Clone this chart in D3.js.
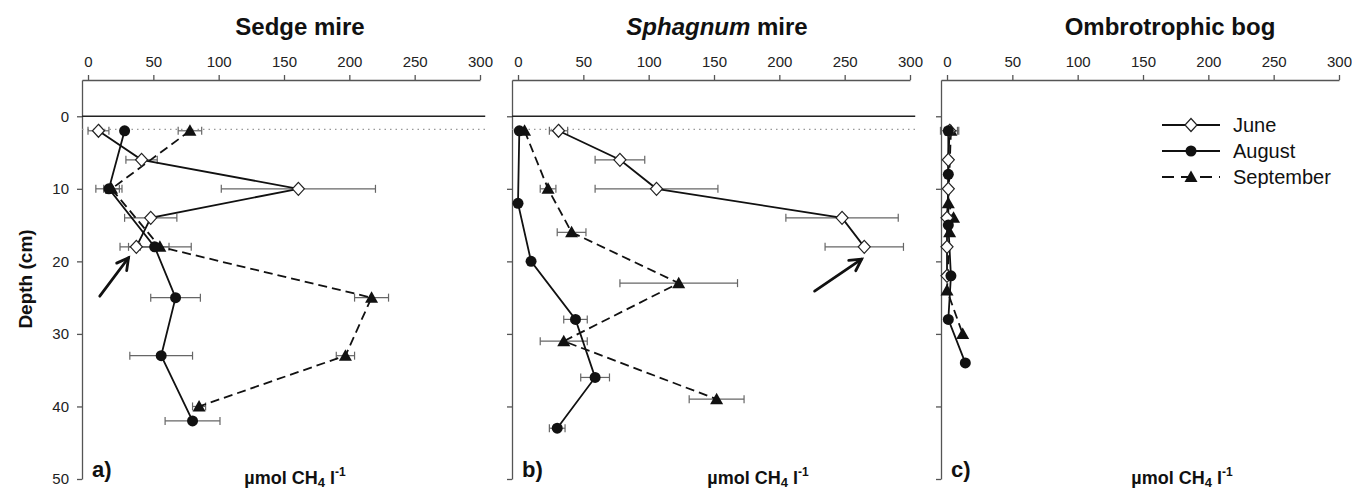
<!DOCTYPE html>
<html>
<head>
<meta charset="utf-8">
<script src="https://cdn.jsdelivr.net/npm/d3@7"></script>
<style>
body { margin: 0; background: #fff; }
text { font-family: Arial, "Liberation Sans", sans-serif; }
</style>
</head>
<body>
<svg id="chart"></svg>
<script>
// rows are [depth (cm), CH4 (umol/l), error]
var sedgeJune = [[2, 8, 8], [6, 41, 12], [10, 161, 59], [14, 48, 20], [18, 37, 12.5]];
var sedgeAugust = [[2, 28, 0], [10, 16, 10], [18, 51, 11], [25, 67, 19], [33, 56, 24], [42, 80, 21]];
var sedgeSeptember = [[2, 78, 9], [10, 18, 6], [18, 55, 24], [25, 217, 13], [33, 197, 7], [40, 85, 5]];

var sphagnumJune = [[2, 31, 7], [6, 78, 19], [10, 106, 47], [14, 248, 43], [18, 265, 30]];
var sphagnumAugust = [[2, 1, 0], [12, 0, 0], [20, 10, 0], [28, 44, 9], [36, 59, 11], [43, 30, 6]];
var sphagnumSeptember = [[2, 5, 0], [10, 23, 6], [16, 41, 11], [23, 123, 45], [31, 35, 18], [39, 152, 21]];

var bogJune = [[2, 2, 7], [6, 1, 0], [10, 1, 0], [14, 0, 0], [18, 0, 0], [22, 0, 0]];
var bogAugust = [[2, 1, 0], [8, 1, 0], [15, 1, 0], [22, 3, 0], [28, 1, 0], [34, 14, 0]];
var bogSeptember = [[2, 3, 5], [12, 1, 0], [14, 5, 0], [16, 2, 0], [24, 0, 0], [30, 12, 0]];

var months = ["June", "August", "September"];
var ticksX = [0, 50, 100, 150, 200, 250, 300];
var ticksY = [0, 10, 20, 30, 40, 50];

// arrows [depth, value] from -> to
var sedgeArrow = [[24.8, 9], [19.5, 31]];
var sphagnumArrow = [[24.1, 227], [19.7, 263]];

var w = 1352,
    h = 491;

var svg = d3.select("#chart")
	.attr("width", w)
	.attr("height", h);

var panels = [
	{ title: "Sedge mire", letter: "a)", left: 82, titleX: 300, labelX: 295, labels: true, ref: true,
	  series: [sedgeJune, sedgeAugust, sedgeSeptember], arrow: sedgeArrow },
	{ title: "mire", italic: "Sphagnum", letter: "b)", left: 512, titleX: 717, labelX: 758, labels: false, ref: true,
	  series: [sphagnumJune, sphagnumAugust, sphagnumSeptember], arrow: sphagnumArrow },
	{ title: "Ombrotrophic bog", letter: "c)", left: 941, titleX: 1170, labelX: 1182, labels: false, ref: false,
	  series: [bogJune, bogAugust, bogSeptember], arrow: null }
];

function marker(sel, m) {
	if (m == 0) {
		sel.append("path").attr("d", "M0,-6.5L6,0L0,6.5L-6,0Z")
			.attr("fill", "#fff").attr("stroke", "#222").attr("stroke-width", 1.2);
	} else if (m == 1) {
		sel.append("circle").attr("r", 5.5).attr("fill", "#111");
	} else {
		sel.append("path").attr("d", "M0,-6.5L6.5,5L-6.5,5Z").attr("fill", "#111");
	}
}

function styleAxis(a) {
	a.select(".domain").attr("stroke", "#555").attr("stroke-width", 1.3);
	a.selectAll(".tick line").attr("stroke", "#555").attr("stroke-width", 1.3);
	a.selectAll(".tick text").attr("font-size", 15).attr("fill", "#222")
		.style("font-family", "Arial, 'Liberation Sans', sans-serif");
}

panels.forEach(function(p) {
	var x = d3.scaleLinear().domain([-4.6, 300]).range([p.left, p.left + 398]);
	var y = d3.scaleLinear().domain([-5, 50]).range([80, 479]);
	var g = svg.append("g");

	g.append("g")
		.attr("transform", "translate(0,80)")
		.call(d3.axisTop(x).tickValues(ticksX).tickSize(5).tickSizeOuter(0).tickPadding(8))
		.call(styleAxis);

	var ya = d3.axisLeft(y).tickValues(ticksY).tickSize(5).tickSizeOuter(0).tickPadding(8);
	if (!p.labels) ya.tickFormat("");
	g.append("g")
		.attr("transform", "translate(" + p.left + ",0)")
		.call(ya)
		.call(styleAxis);

	if (p.ref) {
		g.append("line")
			.attr("x1", x(-4.6)).attr("x2", x(304))
			.attr("y1", y(0)).attr("y2", y(0))
			.attr("stroke", "#222").attr("stroke-width", 1.5);
		g.append("line")
			.attr("x1", x(-4.6)).attr("x2", x(304))
			.attr("y1", y(1.8)).attr("y2", y(1.8))
			.attr("stroke", "#999").attr("stroke-width", 1.3)
			.attr("stroke-dasharray", "1.5,4");
	}

	var line = d3.line()
		.x(function(d) { return x(d[1]); })
		.y(function(d) { return y(d[0]); });

	// error bars
	p.series.forEach(function(s) {
		s.filter(function(d) { return d[2] > 0; }).forEach(function(d) {
			var eb = g.append("g").attr("stroke", "#666").attr("stroke-width", 1.2);
			eb.append("line").attr("x1", x(d[1] - d[2])).attr("x2", x(d[1] + d[2]))
				.attr("y1", y(d[0])).attr("y2", y(d[0]));
			eb.append("line").attr("x1", x(d[1] - d[2])).attr("x2", x(d[1] - d[2]))
				.attr("y1", y(d[0]) - 4).attr("y2", y(d[0]) + 4);
			eb.append("line").attr("x1", x(d[1] + d[2])).attr("x2", x(d[1] + d[2]))
				.attr("y1", y(d[0]) - 4).attr("y2", y(d[0]) + 4);
		});
	});

	// lines
	p.series.forEach(function(s, i) {
		g.append("path")
			.attr("d", line(s))
			.attr("fill", "none")
			.attr("stroke", "#111")
			.attr("stroke-width", 1.8)
			.attr("stroke-dasharray", i == 2 ? "9,5" : null);
	});

	// markers: september, june, august
	[2, 0, 1].forEach(function(i) {
		p.series[i].forEach(function(d) {
			var mg = g.append("g").attr("transform", "translate(" + x(d[1]) + "," + y(d[0]) + ")");
			marker(mg, i);
		});
	});

	if (p.arrow) {
		var a0 = [x(p.arrow[0][1]), y(p.arrow[0][0])];
		var a1 = [x(p.arrow[1][1]), y(p.arrow[1][0])];
		var ang = Math.atan2(a1[1] - a0[1], a1[0] - a0[0]);
		var ag = g.append("g").attr("stroke", "#111").attr("stroke-width", 2.8)
			.attr("fill", "none").attr("stroke-linecap", "round");
		ag.append("line").attr("x1", a0[0]).attr("y1", a0[1]).attr("x2", a1[0]).attr("y2", a1[1]);
		ag.append("path").attr("d", "M" + (a1[0] - 13 * Math.cos(ang - 0.5)) + "," + (a1[1] - 13 * Math.sin(ang - 0.5)) +
			"L" + a1[0] + "," + a1[1] +
			"L" + (a1[0] - 13 * Math.cos(ang + 0.5)) + "," + (a1[1] - 13 * Math.sin(ang + 0.5)));
	}

	// title
	var t = svg.append("text")
		.attr("x", p.titleX).attr("y", 35)
		.attr("text-anchor", "middle")
		.attr("font-size", 24).attr("font-weight", "bold").attr("fill", "#111");
	if (p.italic) {
		t.append("tspan").attr("font-style", "italic").text(p.italic);
		t.append("tspan").text(" " + p.title);
	} else {
		t.text(p.title);
	}

	// panel letter
	svg.append("text")
		.attr("x", p.left + 10).attr("y", 477)
		.attr("font-size", 22).attr("font-weight", "bold").attr("fill", "#111")
		.text(p.letter);

	// x label
	var xl = svg.append("text")
		.attr("x", p.labelX).attr("y", 484)
		.attr("text-anchor", "middle")
		.attr("font-size", 18).attr("font-weight", "bold").attr("fill", "#111");
	xl.append("tspan").text("µmol CH");
	xl.append("tspan").attr("font-size", 13).attr("dy", 3).text("4");
	xl.append("tspan").attr("dy", -3).text(" l");
	xl.append("tspan").attr("font-size", 12).attr("dy", -8).text("-1");
});

svg.append("text")
	.attr("transform", "translate(32,279) rotate(-90)")
	.attr("text-anchor", "middle")
	.attr("font-size", 19).attr("font-weight", "bold").attr("fill", "#111")
	.text("Depth (cm)");

// legend
var leg = svg.append("g");
months.forEach(function(m, i) {
	var ly = 125 + i * 26;
	leg.append("line")
		.attr("x1", 1162).attr("x2", 1220).attr("y1", ly).attr("y2", ly)
		.attr("stroke", "#111").attr("stroke-width", 1.8)
		.attr("stroke-dasharray", i == 2 ? "12,7" : null);
	marker(leg.append("g").attr("transform", "translate(1191," + ly + ")"), i);
	leg.append("text")
		.attr("x", 1233).attr("y", ly + 7)
		.attr("font-size", 20).attr("fill", "#111")
		.text(m);
});
</script>
</body>
</html>
